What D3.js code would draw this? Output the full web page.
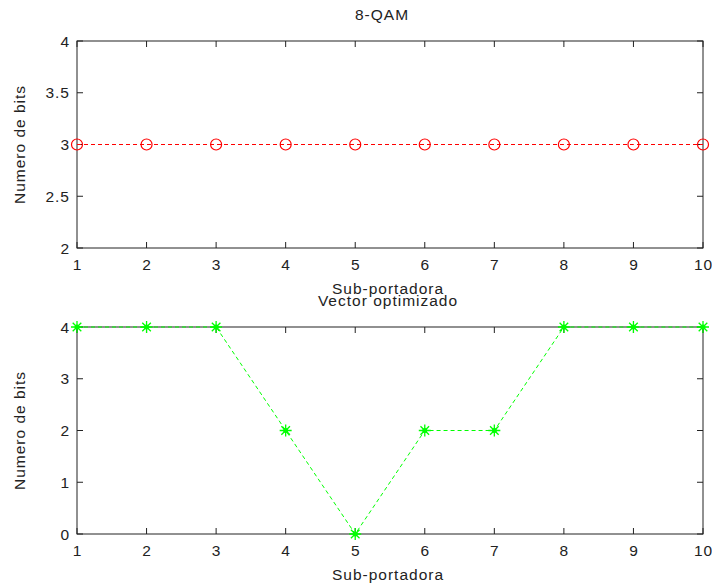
<!DOCTYPE html>
<html>
<head>
<meta charset="utf-8">
<script src="https://cdn.jsdelivr.net/npm/d3@7"></script>
<style>
  body { margin: 0; background: #fff; }
  svg { display: block; }
  text { font-family: "Liberation Sans", Arial, sans-serif; font-size: 15.5px; letter-spacing: 1px; fill: #222; }
</style>
</head>
<body>
<svg id="chart" width="712" height="587"></svg>
<script>
const subcarriers = [1, 2, 3, 4, 5, 6, 7, 8, 9, 10];
const bits8qam = [3, 3, 3, 3, 3, 3, 3, 3, 3, 3];
const bitsOptim = [4, 4, 4, 2, 0, 2, 2, 4, 4, 4];
const topTicks = [2, 2.5, 3, 3.5, 4];
const bottomTicks = [0, 1, 2, 3, 4];

const svg = d3.select("#chart");
const left = 77, right = 703;

let x = d3.scaleLinear([1, 10], [left, right]);

function panel(top, bottom, ydom, yticks, vals, title, titleX, color, marker) {
    let y = d3.scaleLinear(ydom, [bottom, top]);
    let g = svg.append("g");

    // ticks, inward on all four sides
    let tl = 6;
    subcarriers.forEach(t => {
        g.append("line").attr("x1", x(t)).attr("x2", x(t)).attr("y1", bottom).attr("y2", bottom - tl).attr("stroke", "#222");
        g.append("line").attr("x1", x(t)).attr("x2", x(t)).attr("y1", top).attr("y2", top + tl).attr("stroke", "#222");
        g.append("text").attr("x", x(t) + 0.5).attr("y", bottom + 22).attr("text-anchor", "middle").text(t);
    });
    yticks.forEach(t => {
        g.append("line").attr("x1", left).attr("x2", left + tl).attr("y1", y(t)).attr("y2", y(t)).attr("stroke", "#222");
        g.append("line").attr("x1", right).attr("x2", right - tl).attr("y1", y(t)).attr("y2", y(t)).attr("stroke", "#222");
        g.append("text").attr("x", left - 7).attr("y", y(t) + 5.5).attr("text-anchor", "end").text(t);
    });

    // box
    g.append("rect")
        .attr("x", left).attr("y", top)
        .attr("width", right - left).attr("height", bottom - top)
        .attr("fill", "none").attr("stroke", "#222").attr("stroke-width", 1);

    // labels
    g.append("text").attr("x", 388).attr("y", bottom + 46).attr("text-anchor", "middle").text("Sub-portadora");
    g.append("text").attr("x", titleX).attr("y", top - 21).attr("text-anchor", "middle").text(title);
    g.append("text")
        .attr("transform", `translate(25,${(top + bottom) / 2}) rotate(-90)`)
        .attr("text-anchor", "middle").text("Numero de bits");

    // series
    let line = d3.line().x((d, i) => x(subcarriers[i])).y(d => y(d));
    g.append("path").datum(vals)
        .attr("d", line).attr("fill", "none")
        .attr("stroke", color).attr("stroke-width", 1).attr("stroke-dasharray", "4,3");

    let pts = g.selectAll(".pt").data(vals).join("g")
        .attr("transform", (d, i) => `translate(${x(subcarriers[i])},${y(d)})`);
    if (marker === "circle") {
        pts.append("circle").attr("r", 5.5).attr("fill", "none").attr("stroke", color).attr("stroke-width", 1.2);
    } else {
        let s = 6, s2 = 4.3;
        pts.append("path")
            .attr("d", `M${-s},0H${s}M0,${-s}V${s}M${-s2},${-s2}L${s2},${s2}M${-s2},${s2}L${s2},${-s2}`)
            .attr("stroke", color).attr("stroke-width", 1.3);
        pts.append("circle").attr("r", 2.5).attr("fill", color);
    }
}

panel(41, 248, [2, 4], topTicks, bits8qam, "8-QAM", 382, "#ff0000", "circle");
panel(327, 534, [0, 4], bottomTicks, bitsOptim, "Vector optimizado", 388, "#00ff00", "star");
</script>
</body>
</html>
